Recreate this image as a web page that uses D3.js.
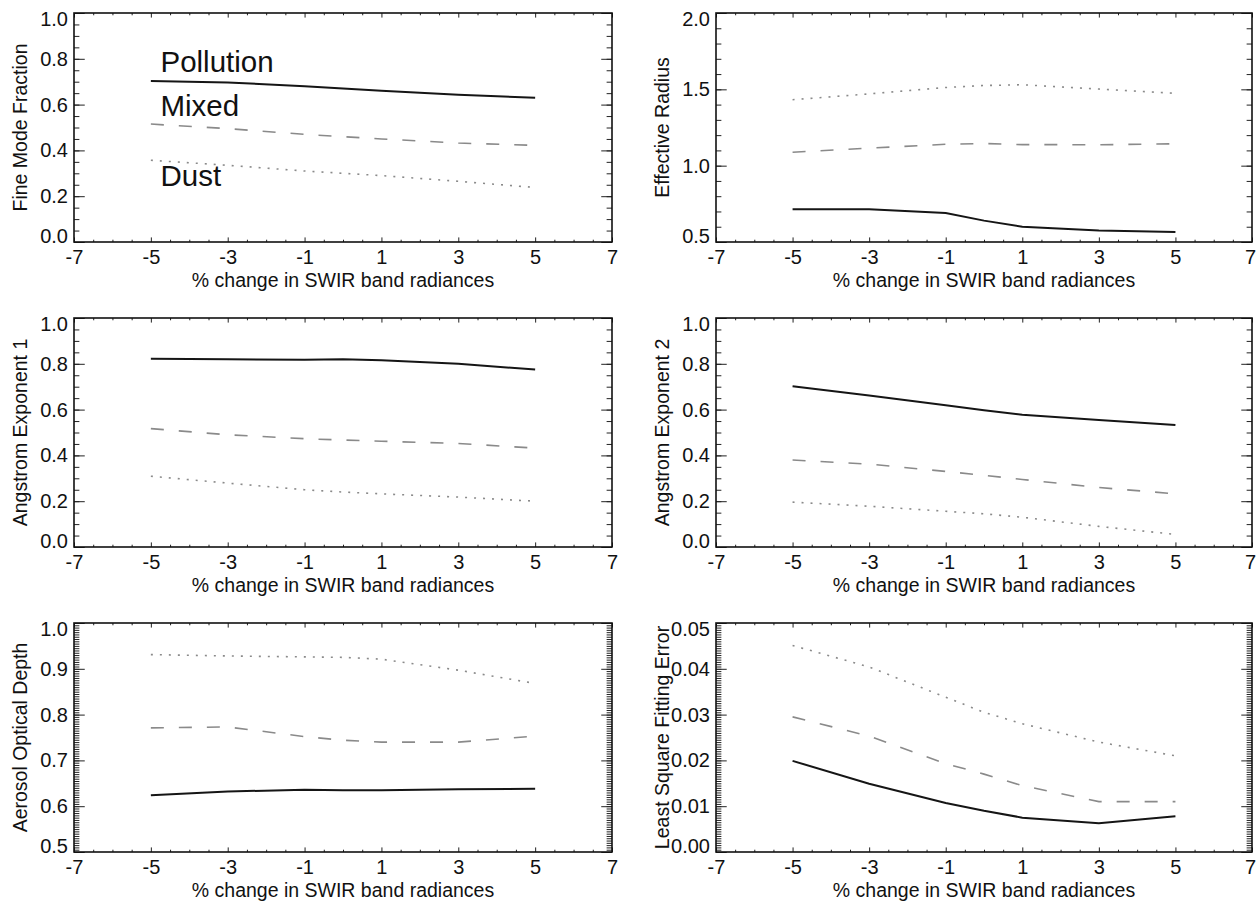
<!DOCTYPE html>
<html>
<head>
<meta charset="utf-8">
<script src="https://cdn.jsdelivr.net/npm/d3@7"></script>
<style>
  html, body { margin: 0; padding: 0; background: #fff; }
  svg { display: block; font-family: "Liberation Sans", Arial, Helvetica, sans-serif; }
</style>
</head>
<body>
<svg id="chart" width="1257" height="902"></svg>
<script>
// ---------- data ----------
const xValues = [-5, -3, -1, 0, 1, 3, 5];
const xTickValues = [-7, -5, -3, -1, 1, 3, 5, 7];
const seriesNames = ["Pollution", "Mixed", "Dust"];

const fmfPollution = [0.703, 0.697, 0.680, 0.670, 0.660, 0.643, 0.630];
const fmfMixed     = [0.515, 0.495, 0.470, 0.460, 0.450, 0.432, 0.422];
const fmfDust      = [0.357, 0.335, 0.310, 0.300, 0.290, 0.265, 0.238];

const reffPollution = [0.715, 0.715, 0.690, 0.640, 0.600, 0.575, 0.565];
const reffMixed     = [1.088, 1.115, 1.140, 1.145, 1.138, 1.137, 1.143];
const reffDust      = [1.432, 1.470, 1.512, 1.525, 1.530, 1.502, 1.474];

const ae1Pollution = [0.822, 0.820, 0.818, 0.820, 0.815, 0.800, 0.775];
const ae1Mixed     = [0.517, 0.490, 0.473, 0.467, 0.462, 0.452, 0.432];
const ae1Dust      = [0.309, 0.279, 0.250, 0.240, 0.232, 0.218, 0.200];

const ae2Pollution = [0.702, 0.662, 0.619, 0.597, 0.578, 0.555, 0.533];
const ae2Mixed     = [0.380, 0.362, 0.330, 0.313, 0.295, 0.260, 0.232];
const ae2Dust      = [0.196, 0.178, 0.156, 0.145, 0.130, 0.090, 0.055];

const aodPollution = [0.624, 0.632, 0.636, 0.635, 0.635, 0.637, 0.638];
const aodMixed     = [0.771, 0.773, 0.752, 0.744, 0.740, 0.740, 0.753];
const aodDust      = [0.931, 0.928, 0.926, 0.925, 0.921, 0.897, 0.868];

const lsfPollution = [0.0199, 0.0149, 0.0107, 0.0090, 0.0075, 0.0063, 0.0078];
const lsfMixed     = [0.0295, 0.0253, 0.0193, 0.0170, 0.0145, 0.0110, 0.0110];
const lsfDust      = [0.0451, 0.0404, 0.0338, 0.0305, 0.0280, 0.0240, 0.0210];

const panelTitles = ["Fine Mode Fraction", "Effective Radius", "Angstrom Exponent 1",
                     "Angstrom Exponent 2", "Aerosol Optical Depth", "Least Square Fitting Error"];
const yDomains = [[0, 1], [0.5, 2.0], [0, 1], [0, 1], [0.5, 1.0], [0, 0.05]];
const yMajorSteps = [0.2, 0.5, 0.2, 0.2, 0.1, 0.01];
const yMinorSteps = [0.05, 0.1, 0.05, 0.05, 0.005, 0.0005];
const yFormats = [".1f", ".1f", ".1f", ".1f", ".1f", ".2f"];
const panelSeries = [
  [fmfPollution, fmfMixed, fmfDust],
  [reffPollution, reffMixed, reffDust],
  [ae1Pollution, ae1Mixed, ae1Dust],
  [ae2Pollution, ae2Mixed, ae2Dust],
  [aodPollution, aodMixed, aodDust],
  [lsfPollution, lsfMixed, lsfDust]
];
const xTitle = "% change in SWIR band radiances";
// annotation labels in panel 1 (data units: x, baseline y)
const annotationX = [-4.75, -4.75, -4.75];
const annotationY = [0.742, 0.550, 0.245];

// ---------- layout / style ----------
const colLefts = [74, 716];
const colWidths = [538, 536];
const rowTops = [13, 318, 623];
const H = 229;
const tickFont = 20, titleFont = 19.5, annFont = 29.5;
const styles = [
  { stroke: "#151515", width: 2.0, dash: null },
  { stroke: "#8a8a8a", width: 1.6, dash: "13,15" },
  { stroke: "#8a8a8a", width: 1.6, dash: "2,7" }
];

const svg = d3.select("#chart");
const range = (a, b, s) => d3.range(Math.round((b - a) / s) + 1).map(i => +(a + i * s).toFixed(6));
const hyphen = f => (d => f(d).replace("\u2212", "-"));

panelTitles.forEach((title, i) => {
  const col = i % 2, row = Math.floor(i / 2);
  const left = colLefts[col], top = rowTops[row], W = colWidths[col];
  const g = svg.append("g").attr("transform", `translate(${left},${top})`);

  const x = d3.scaleLinear().domain([-7, 7]).range([0, W]);
  const y = d3.scaleLinear().domain(yDomains[i]).range([H, 0]);

  const xMajorLen = 0.02 * H, yMajorLen = 0.02 * W;
  const xMinor = range(-7, 7, 0.5).filter(v => !xTickValues.includes(v));
  const yMaj = range(yDomains[i][0], yDomains[i][1], yMajorSteps[i]);
  const yMin = range(yDomains[i][0], yDomains[i][1], yMinorSteps[i]);

  // bottom axis with labels
  const bx = g.append("g").attr("transform", `translate(0,${H})`)
    .call(d3.axisBottom(x).tickValues(xTickValues).tickFormat(d => String(d))
      .tickSize(-xMajorLen).tickSizeOuter(0).tickPadding(8));
  bx.append("g").call(d3.axisBottom(x).tickValues(xMinor).tickFormat("")
      .tickSize(-xMajorLen / 2).tickSizeOuter(0));
  if (col === 1) {
    const bl = bx.selectAll(":scope > .tick text");
    bl.filter((d, k) => k === bl.size() - 1).attr("dx", "-2");
  }
  // top axis ticks
  const tx = g.append("g")
    .call(d3.axisTop(x).tickValues(xTickValues).tickFormat("").tickSize(-xMajorLen).tickSizeOuter(0));
  tx.append("g").call(d3.axisTop(x).tickValues(xMinor).tickFormat("").tickSize(-xMajorLen / 2).tickSizeOuter(0));

  // left axis with labels
  const ly = g.append("g")
    .call(d3.axisLeft(y).tickValues(yMaj).tickFormat(hyphen(d3.format(yFormats[i])))
      .tickSize(-yMajorLen).tickSizeOuter(0).tickPadding(6));
  ly.append("g").call(d3.axisLeft(y).tickValues(yMin).tickFormat("")
      .tickSize(-yMajorLen / 2).tickSizeOuter(0));
  // shift end labels inward
  const lab = ly.selectAll(":scope > .tick text");
  const n = lab.size();
  lab.attr("dy", (d, k) => k === 0 ? "-0.0em" : (k === n - 1 ? "0.64em" : "0.32em"));

  // right axis ticks
  const ry = g.append("g").attr("transform", `translate(${W},0)`)
    .call(d3.axisRight(y).tickValues(yMaj).tickFormat("").tickSize(-yMajorLen).tickSizeOuter(0));
  ry.append("g").call(d3.axisRight(y).tickValues(yMin).tickFormat("").tickSize(-yMajorLen / 2).tickSizeOuter(0));

  g.selectAll(".domain").remove();
  g.selectAll(".tick line").attr("stroke", "#222").attr("stroke-width", 1);
  g.selectAll(".tick text").attr("fill", "#111").style("font-size", tickFont + "px")
    .style("font-family", "'Liberation Sans', Arial, Helvetica, sans-serif");

  // frame
  g.append("rect").attr("x", 0).attr("y", 0).attr("width", W).attr("height", H)
    .attr("fill", "none").attr("stroke", "#111").attr("stroke-width", 1.6);

  // lines
  const line = d3.line().x(d => x(d[0])).y(d => y(d[1]));
  panelSeries[i].forEach((vals, s) => {
    const pts = xValues.map((xv, k) => [xv, vals[k]]);
    g.append("path").datum(pts).attr("d", line)
      .attr("fill", "none").attr("stroke", styles[s].stroke)
      .attr("stroke-width", styles[s].width)
      .attr("stroke-dasharray", styles[s].dash);
  });

  // x title
  g.append("text").attr("x", W / 2).attr("y", H + 45)
    .attr("text-anchor", "middle").attr("fill", "#111")
    .style("font-size", titleFont + "px").text(xTitle);

  // y title
  g.append("text").attr("transform", `translate(-47,${H / 2}) rotate(-90)`)
    .attr("text-anchor", "middle").attr("fill", "#111")
    .style("font-size", titleFont + "px").text(title);

  // annotations in first panel
  if (i === 0) {
    seriesNames.forEach((nm, s) => {
      g.append("text").attr("x", x(annotationX[s])).attr("y", y(annotationY[s]))
        .attr("fill", "#111").style("font-size", annFont + "px").text(nm);
    });
  }
});
</script>
</body>
</html>
